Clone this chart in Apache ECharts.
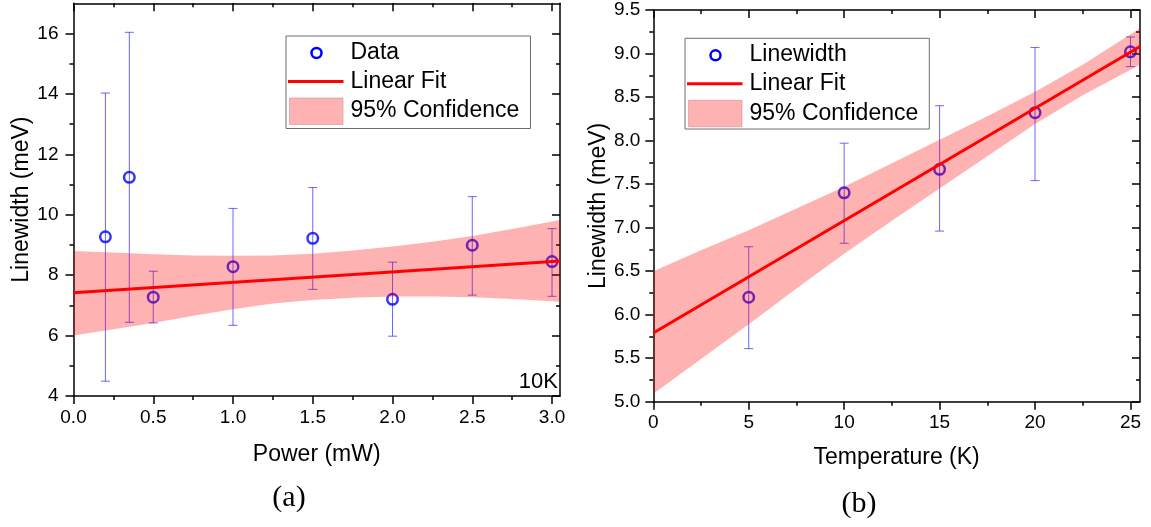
<!DOCTYPE html>
<html>
<head>
<meta charset="utf-8">
<script src="https://cdn.jsdelivr.net/npm/echarts@6/dist/echarts.min.js"></script>
<style>
  html, body { margin: 0; padding: 0; background: #fff; }
  #chart { width: 1151px; height: 527px; }
</style>
</head>
<body>
<div id="chart"></div>
<script>
// ---- (a) linewidth vs excitation power at 10 K ----
const powerX        = [0.2, 0.35, 0.5, 1.0, 1.5, 2.0, 2.5, 3.0];
const powerWidth    = [9.27, 11.24, 7.27, 8.28, 9.22, 7.20, 8.99, 8.45];
const powerErrLow   = [4.49, 6.44, 6.42, 6.34, 7.53, 5.98, 7.34, 7.30];
const powerErrHigh  = [14.03, 16.04, 8.13, 10.21, 10.90, 8.43, 10.60, 9.54];
const powerFitX     = [0, 3.05];
const powerFitY     = [7.42, 8.47];
const powerBandX    = [0, 0.25, 0.5, 0.75, 1.0, 1.25, 1.5, 1.75, 2.0, 2.25, 2.5, 2.75, 3.05];
const powerBandHigh = [8.80, 8.75, 8.69, 8.65, 8.64, 8.65, 8.71, 8.82, 8.95, 9.11, 9.30, 9.53, 9.83];
const powerBandLow  = [6.00, 6.21, 6.42, 6.66, 6.87, 7.06, 7.18, 7.25, 7.29, 7.29, 7.27, 7.21, 7.12];
const powerTicks    = [0, 0.5, 1.0, 1.5, 2.0, 2.5, 3.0];
const powerWidthTicks = [4, 6, 8, 10, 12, 14, 16];

// ---- (b) linewidth vs temperature ----
const tempX        = [5, 10, 15, 20, 25];
const tempWidth    = [6.20, 7.40, 7.67, 8.32, 9.02];
const tempErrLow   = [5.61, 6.82, 6.96, 7.54, 8.85];
const tempErrHigh  = [6.78, 7.97, 8.40, 9.07, 9.19];
const tempFitX     = [0, 25.5];
const tempFitY     = [5.79, 9.08];
const tempBandX    = [0, 2.5, 5, 7.5, 10, 12.5, 15, 17.5, 20, 22.5, 25.5];
const tempBandHigh = [6.50, 6.74, 6.97, 7.22, 7.47, 7.74, 8.01, 8.28, 8.56, 8.87, 9.29];
const tempBandLow  = [5.09, 5.49, 5.89, 6.30, 6.70, 7.08, 7.45, 7.82, 8.19, 8.52, 8.87];
const tempTicks    = [0, 5, 10, 15, 20, 25];

const FONT = 'Liberation Sans, Arial, sans-serif';
const BLUE = '#0000ff';
const BAR_COLOR = 'rgba(40,40,255,0.7)';
const BAND_COLOR = 'rgba(255,0,0,0.3)';
const FIT_COLOR = '#ff0000';

const chart = echarts.init(document.getElementById('chart'), null, { renderer: 'canvas' });

function zipRows(a, b, c) {
  return a.map((v, i) => c ? [v, b[i], c[i]] : [v, b[i]]);
}

function axisPair(gridIndex, cfg, isX) {
  const lineStyle = { color: '#000', width: 1.5 };
  const common = {
    gridIndex, type: 'value', min: cfg.min, max: cfg.max, interval: cfg.interval,
    splitLine: { show: false },
    axisLine: { show: true, onZero: false, lineStyle },
    minorTick: { show: true, splitNumber: 2, length: 4, lineStyle: { color: '#000', width: 1.5 } },
    minorSplitLine: { show: false }
  };
  const main = Object.assign({}, common, {
    position: isX ? 'bottom' : 'left',
    axisTick: { show: true, inside: false, length: 8, customValues: cfg.ticks, lineStyle },
    axisLabel: {
      show: true, color: '#000', fontFamily: FONT, fontSize: 19,
      margin: cfg.labelMargin,
      customValues: cfg.ticks,
      formatter: cfg.fmt
    },
    name: cfg.name, nameLocation: 'middle', nameGap: cfg.nameGap,
    nameRotate: isX ? 0 : 90,
    nameTextStyle: { color: '#000', fontFamily: FONT, fontSize: 23 }
  });
  const mirror = Object.assign({}, common, {
    position: isX ? 'top' : 'right',
    axisTick: { show: true, inside: true, length: 8, customValues: cfg.ticks, lineStyle },
    minorTick: { show: true, splitNumber: 2, length: 4, lineStyle: { color: '#000', width: 1.5 } },
    axisLabel: { show: false }
  });
  return [main, mirror];
}

const xAxes = [
  ...axisPair(0, { min: 0, max: 3.05, interval: 0.5, ticks: powerTicks, labelMargin: 12,
                   fmt: v => Number(v).toFixed(1), name: 'Power (mW)', nameGap: 47 }, true),
  ...axisPair(1, { min: 0, max: 25.5, interval: 5, ticks: tempTicks, labelMargin: 12,
                   fmt: v => String(v), name: 'Temperature (K)', nameGap: 44 }, true)
];
const yAxes = [
  ...axisPair(0, { min: 4, max: 17, interval: 2, ticks: powerWidthTicks, labelMargin: 15,
                   fmt: v => String(v), name: 'Linewidth (meV)', nameGap: 40 }, false),
  ...axisPair(1, { min: 5, max: 9.5, interval: 0.5, ticks: undefined, labelMargin: 13,
                   fmt: v => Number(v).toFixed(1), name: 'Linewidth (meV)', nameGap: 43 }, false)
];

// vertical error bars with short caps
function errorBarSeries(xIdx, yIdx, rows) {
  return {
    type: 'custom', xAxisIndex: xIdx, yAxisIndex: yIdx, z: 2, silent: true,
    data: rows,
    encode: { x: 0, y: [1, 2] },
    renderItem: function (params, api) {
      const lo = api.coord([api.value(0), api.value(1)]);
      const hi = api.coord([api.value(0), api.value(2)]);
      const cap = 4.5;
      const style = { stroke: BAR_COLOR, lineWidth: 1, fill: null };
      return {
        type: 'group',
        children: [
          { type: 'line', shape: { x1: lo[0], y1: lo[1], x2: hi[0], y2: hi[1] }, style },
          { type: 'line', shape: { x1: hi[0] - cap, y1: hi[1], x2: hi[0] + cap, y2: hi[1] }, style },
          { type: 'line', shape: { x1: lo[0] - cap, y1: lo[1], x2: lo[0] + cap, y2: lo[1] }, style }
        ]
      };
    }
  };
}

// confidence band as a single filled polygon (upper edge, then lower edge reversed)
function bandSeries(xIdx, yIdx, bx, lo, hi) {
  return {
    type: 'custom', xAxisIndex: xIdx, yAxisIndex: yIdx, z: 4, silent: true,
    data: zipRows(bx, lo, hi),
    encode: { x: 0, y: [1, 2] },
    renderItem: function (params, api) {
      if (params.dataIndex !== 0) return;
      const pts = [];
      for (let i = 0; i < bx.length; i++) pts.push(api.coord([bx[i], hi[i]]));
      for (let i = bx.length - 1; i >= 0; i--) pts.push(api.coord([bx[i], lo[i]]));
      return { type: 'polygon', shape: { points: pts }, style: { fill: BAND_COLOR, stroke: null } };
    }
  };
}

function scatterSeries(xIdx, yIdx, xs, ys) {
  return {
    type: 'scatter', xAxisIndex: xIdx, yAxisIndex: yIdx, z: 3, silent: true,
    data: zipRows(xs, ys),
    symbol: 'circle', symbolSize: 10.5,
    itemStyle: { color: 'rgba(255,255,255,0)', borderColor: BLUE, borderWidth: 2.5 }
  };
}

function fitSeries(xIdx, yIdx, xs, ys) {
  return {
    type: 'line', xAxisIndex: xIdx, yAxisIndex: yIdx, z: 5, silent: true,
    data: zipRows(xs, ys), showSymbol: false, symbol: 'none',
    lineStyle: { color: FIT_COLOR, width: 3 }
  };
}

function legendBox(x, y, w, h, firstLabel) {
  const tx = x + 64.5;
  const txt = (label, ty) => ({
    type: 'text', x: tx, y: ty,
    style: { text: label, fill: '#000', font: '23px ' + FONT, textVerticalAlign: 'middle', textAlign: 'left' }
  });
  return {
    type: 'group', z: 10,
    children: [
      { type: 'rect', shape: { x: x, y: y, width: w, height: h }, style: { fill: '#fff', stroke: '#6e6e6e', lineWidth: 1 } },
      { type: 'circle', shape: { cx: x + 30.5, cy: y + 17, r: 5 }, style: { fill: null, stroke: BLUE, lineWidth: 2.5 } },
      { type: 'line', shape: { x1: x + 2, y1: y + 45.5, x2: x + 57.5, y2: y + 45.5 }, style: { stroke: FIT_COLOR, lineWidth: 3 } },
      { type: 'rect', shape: { x: x + 3.5, y: y + 62, width: 53.5, height: 26.5 }, style: { fill: BAND_COLOR, stroke: 'rgba(200,120,120,0.45)', lineWidth: 1 } },
      txt(firstLabel, y + 16.5),
      txt('Linear Fit', y + 45.5),
      txt('95% Confidence', y + 75)
    ]
  };
}

const option = {
  backgroundColor: '#ffffff',
  animation: false,
  grid: [
    { left: 73.5, top: 3.3, width: 486.5, height: 392.7, containLabel: false },
    { left: 653.3, top: 10, width: 486.7, height: 391.7, containLabel: false }
  ],
  xAxis: xAxes,
  yAxis: yAxes,
  series: [
    errorBarSeries(0, 0, zipRows(powerX, powerErrLow, powerErrHigh)),
    scatterSeries(0, 0, powerX, powerWidth),
    bandSeries(0, 0, powerBandX, powerBandLow, powerBandHigh),
    fitSeries(0, 0, powerFitX, powerFitY),

    errorBarSeries(2, 2, zipRows(tempX, tempErrLow, tempErrHigh)),
    scatterSeries(2, 2, tempX, tempWidth),
    bandSeries(2, 2, tempBandX, tempBandLow, tempBandHigh),
    fitSeries(2, 2, tempFitX, tempFitY)
  ],
  graphic: [
    legendBox(286, 36, 244.5, 92.5, 'Data'),
    legendBox(685, 38.3, 244.3, 90.7, 'Linewidth'),
    { type: 'text', x: 558, y: 382, z: 10,
      style: { text: '10K', fill: '#000', font: '22px ' + FONT, textAlign: 'right', textVerticalAlign: 'middle' } },
    { type: 'text', x: 289, y: 498, z: 10,
      style: { text: '(a)', fill: '#000', font: '30px "Liberation Serif", "DejaVu Serif", serif', textAlign: 'center', textVerticalAlign: 'middle' } },
    { type: 'text', x: 859, y: 504, z: 10,
      style: { text: '(b)', fill: '#000', font: '30px "Liberation Serif", "DejaVu Serif", serif', textAlign: 'center', textVerticalAlign: 'middle' } }
  ]
};

chart.setOption(option);
</script>
</body>
</html>
